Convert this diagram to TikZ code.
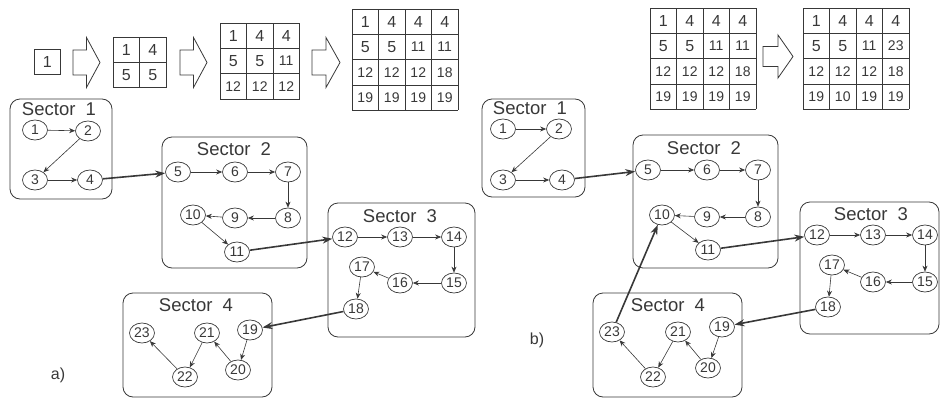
\documentclass[tikz,border=0pt]{standalone}
\usepackage{fontspec}
\setmainfont{Liberation Sans}
\usetikzlibrary{arrows.meta, shapes.geometric}

\definecolor{ink}{gray}{0.22}
\newcommand{\cw}{26.5}
\newcommand{\ch}{25.3}

% grid of numbers: name, left x, top y, cells per row, values
\newcommand{\numgrid}[5]{%
  \begin{scope}[shift={(#2,#3)}]
    \foreach \k in {0,...,#4} {
      \draw[gridline] (\k*\cw,0) -- (\k*\cw,#4*\ch);
      \draw[gridline] (0,\k*\ch) -- (#4*\cw,\k*\ch);
    }
    \foreach \v [count=\i from 0] in {#5} {
      \pgfmathtruncatemacro\r{floor(\i/#4)}
      \pgfmathtruncatemacro\c{mod(\i,#4)}
      \node[cellnum] (#1-\i) at ({(\c+0.5)*\cw},{(\r+0.5)*\ch})
        {\ifnum\v<10\relax\fontsize{16}{16}\selectfont\fi\v};
    }
  \end{scope}}

% hollow block arrow: left x, mid y, length, shaft half, head half
\newcommand{\hollowarrow}[5]{%
  \draw[gridline] (#1,#2-#4) -- ++({#3/2},0) -- ++(0,#4-#5) -- (#1+#3,#2)
    -- (#1+#3/2,#2+#5) -- ++(0,#4-#5) -- (#1,#2+#4) -- cycle;}

\tikzset{
  gridline/.style={draw=ink, line width=0.8pt},
  cellnum/.style={text=ink, inner sep=0pt, font=\fontsize{14}{14}\selectfont},
  state/.style={draw=ink, line width=0.7pt, ellipse,
    minimum width=25pt, minimum height=20pt, inner sep=0pt,
    text=ink, font=\fontsize{14}{14}\selectfont},
  sectorbox/.style={draw=ink, line width=0.8pt, rounded corners=10pt},
  sectortitle/.style={text=ink, inner sep=0pt, font=\fontsize{18.5}{18.5}\selectfont},
  flow/.style={draw=ink, line width=0.6pt, -{Stealth[length=6pt,width=5pt]}},
  link/.style={draw=ink, line width=1.6pt, -{Stealth[length=10pt,width=7pt]}},
  panel/.style={text=ink, font=\fontsize{16}{16}\selectfont}
}

\begin{document}
\begin{tikzpicture}[x=1pt, y=-1pt]
  \useasboundingbox (0,0) rectangle (940,399);

  % number grids, panel a
  \numgrid{ga}{34}{49}{1}{1}
  \hollowarrow{73}{62.5}{27}{12.5}{25}
  \numgrid{gb}{113}{37}{2}{1,4,5,5}
  \hollowarrow{180}{62.5}{27}{12.5}{25}
  \numgrid{gc}{220}{23}{3}{1,4,4,5,5,11,12,12,12}
  \hollowarrow{312}{62.5}{28}{12.5}{25}
  \numgrid{gd}{352}{9}{4}{1,4,4,4,5,5,11,11,12,12,12,18,19,19,19,19}
  % number grids, panel b
  \numgrid{ge}{650}{8}{4}{1,4,4,4,5,5,11,11,12,12,12,18,19,19,19,19}
  \hollowarrow{763}{56.5}{30}{10}{21.5}
  \numgrid{gf}{803}{8}{4}{1,4,4,4,5,5,11,23,12,12,12,18,19,10,19,19}

  % sectors, panel a
  \draw[sectorbox] (10,99) rectangle (112,199);
  \draw[sectorbox] (162,137) rectangle (307,268);
  \draw[sectorbox] (328,203) rectangle (475,337);
  \draw[sectorbox] (123,293) rectangle (272,397);
  \node[sectortitle] (ta1) at (59,109) {Sector~~1};
  \node[sectortitle] (ta2) at (234,149) {Sector~~2};
  \node[sectortitle] (ta3) at (400,216) {Sector~~3};
  \node[sectortitle] (ta4) at (196,305) {Sector~~4};
  % sectors, panel b
  \draw[sectorbox] (482,99) rectangle (585,197);
  \draw[sectorbox] (633,135) rectangle (778,268);
  \draw[sectorbox] (800,202) rectangle (939,334);
  \draw[sectorbox] (593,293) rectangle (742,397);
  \node[sectortitle] (tb1) at (530,108) {Sector~~1};
  \node[sectortitle] (tb2) at (704,148) {Sector~~2};
  \node[sectortitle] (tb3) at (871,214) {Sector~~3};
  \node[sectortitle] (tb4) at (668,305) {Sector~~4};

  % states
  \foreach \n/\x/\y in {1/35/130, 2/88/131, 3/35/180, 4/90/180,
      5/178/172, 6/235/172, 7/288/172, 8/288/218, 9/235/218, 10/193/215,
      11/237/252, 12/345/237, 13/400/237, 14/454/237, 15/454/283,
      16/400/283, 17/362/267, 18/356/309, 19/250/330, 20/238/370,
      21/207/333, 22/185/377, 23/142/333}
    \node[state] (a\n) at (\x,\y) {\n};
  \foreach \n/\x/\y in {1/503/129, 2/559/129, 3/503/180, 4/562/180,
      5/648/170, 6/707/170, 7/758/170, 8/758/217, 9/707/217, 10/662/215,
      11/708/250, 12/817/235, 13/873/235, 14/925/235, 15/925/282,
      16/873/282, 17/832/265, 18/828/307, 19/722/327, 20/708/368,
      21/678/332, 22/653/377, 23/612/332}
    \node[state] (b\n) at (\x,\y) {\n};

  % moves inside sectors
  \foreach \p in {a,b}
    \foreach \s/\t in {1/2, 2/3, 3/4, 5/6, 6/7, 7/8, 8/9, 9/10, 10/11,
        12/13, 13/14, 14/15, 15/16, 16/17, 17/18, 19/20, 20/21, 21/22, 22/23}
      \draw[flow] (\p\s) -- (\p\t);

  % moves between sectors
  \draw[link] (a4) -- (a5);
  \draw[link] (a11) -- (a12);
  \draw[link] (a18) -- (a19);
  \draw[link] (b4) -- (b5);
  \draw[link] (b11) -- (b12);
  \draw[link] (b18) -- (b19);
  \draw[link] (b23) -- (b10);

  \node[panel] (pa) at (58,375) {a)};
  \node[panel] (pb) at (537,340) {b)};
\end{tikzpicture}
\end{document}
